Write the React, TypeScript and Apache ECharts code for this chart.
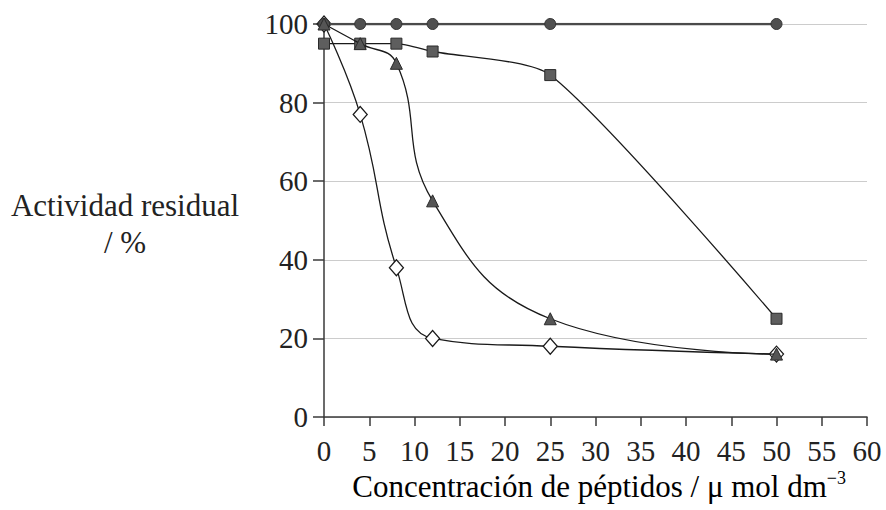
import React, { useEffect, useRef } from "react";
import * as echarts from "echarts";

const concentrations = [0, 4, 8, 12, 25, 50];
const circleValues = [100, 100, 100, 100, 100, 100];
const squareValues = [95, 95, 95, 93, 87, 25];
const triangleValues = [100, 95, 90, 55, 25, 16];
const diamondValues = [100, 77, 38, 20, 18, 16];
const xTicks = { min: 0, max: 60, interval: 5 };
const yTicks = { min: 0, max: 100, interval: 20 };

const FONT = "'Liberation Serif', 'Times New Roman', serif";

function pairs(vals: number[]) {
  return concentrations.map((c, i) => [c, vals[i]]);
}

export default function App() {
  const ref = useRef<HTMLDivElement>(null);
  useEffect(() => {
    if (!ref.current) return;
    const chart = echarts.init(ref.current, null, { renderer: "svg" });
    const axisColor = "#3a3a3a";
    chart.setOption({
      animation: false,
      backgroundColor: "#ffffff",
      grid: { left: 324, right: 19, top: 24, bottom: 93, containLabel: false },
      xAxis: {
        type: "value",
        min: xTicks.min,
        max: xTicks.max,
        interval: xTicks.interval,
        axisLine: { show: true, lineStyle: { color: axisColor, width: 1.5 } },
        axisTick: { show: true, length: 9, lineStyle: { color: axisColor, width: 1.5 } },
        splitLine: { show: false },
        axisLabel: { fontFamily: FONT, fontSize: 29, color: "#222", margin: 19 },
      },
      yAxis: {
        type: "value",
        min: yTicks.min,
        max: yTicks.max,
        interval: yTicks.interval,
        axisLine: { show: true, lineStyle: { color: axisColor, width: 1.5 } },
        axisTick: { show: true, length: 11, lineStyle: { color: axisColor, width: 1.5 } },
        splitLine: { show: true, lineStyle: { color: "#cccccc", width: 1.2 } },
        axisLabel: { fontFamily: FONT, fontSize: 29, color: "#222", margin: 16 },
      },
      graphic: [
        {
          type: "text",
          x: 125,
          y: 205,
          style: {
            text: "Actividad residual",
            font: `31px ${FONT}`,
            fill: "#222",
            textAlign: "center",
            textVerticalAlign: "middle",
          },
        },
        {
          type: "text",
          x: 125,
          y: 242,
          style: {
            text: "/ %",
            font: `31px ${FONT}`,
            fill: "#222",
            textAlign: "center",
            textVerticalAlign: "middle",
          },
        },
        {
          type: "text",
          x: 846,
          y: 486,
          style: {
            text: "{b|Concentración de péptidos / μ mol dm}{s|−3}",
            textAlign: "right",
            textVerticalAlign: "middle",
            rich: {
              b: { fontFamily: FONT, fontSize: 31, color: "#222", lineHeight: 34 },
              s: { fontFamily: FONT, fontSize: 18, color: "#222", verticalAlign: "top", lineHeight: 18 },
            },
          },
        },
      ],
      series: [
        {
          type: "line",
          data: pairs(diamondValues),
          smooth: 0.45,
          symbol: "diamond",
          symbolSize: [14, 16],
          lineStyle: { color: "#1a1a1a", width: 1.3 },
          itemStyle: { color: "#ffffff", borderColor: "#1a1a1a", borderWidth: 1.3 },
          z: 2,
        },
        {
          type: "line",
          data: pairs(squareValues),
          smooth: 0.22,
          symbol: "rect",
          symbolSize: 11,
          lineStyle: { color: "#1a1a1a", width: 1.3 },
          itemStyle: { color: "#5e5e5e", borderColor: "#2a2a2a", borderWidth: 1 },
          z: 3,
        },
        {
          type: "line",
          data: pairs(circleValues),
          smooth: false,
          symbol: "circle",
          symbolSize: 11,
          lineStyle: { color: "#4a4a4a", width: 2.5 },
          itemStyle: { color: "#505050", borderColor: "#333", borderWidth: 1 },
          z: 4,
        },
        {
          type: "line",
          data: pairs(triangleValues),
          smooth: 0.45,
          symbol: "triangle",
          symbolSize: 12,
          lineStyle: { color: "#1a1a1a", width: 1.3 },
          itemStyle: { color: "#555555", borderColor: "#2a2a2a", borderWidth: 1 },
          z: 5,
        },
      ],
    });
    return () => chart.dispose();
  }, []);
  return (
    <div
      ref={ref}
      style={{ position: "fixed", left: 0, top: 0, width: 886, height: 510, background: "#fff" }}
    />
  );
}
